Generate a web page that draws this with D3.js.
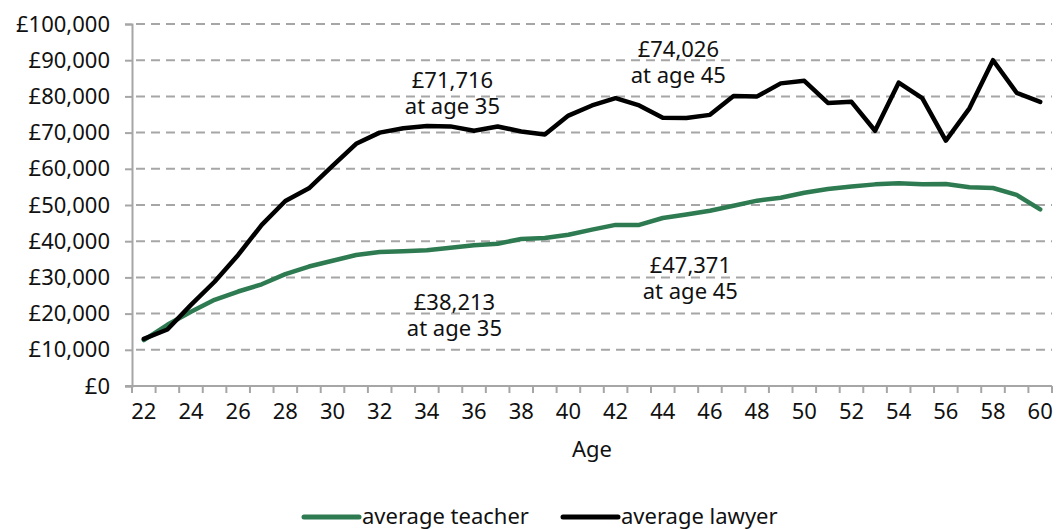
<!DOCTYPE html>
<html>
<head>
<meta charset="utf-8">
<script src="https://cdn.jsdelivr.net/npm/d3@7"></script>
<style>
  body { margin: 0; background: #fff; }
  text { font-family: "Noto Sans", sans-serif; fill: #111; }
</style>
</head>
<body>
<svg id="chart"></svg>
<script>
// Ages on the x axis
const ages = d3.range(22, 61);

// Average salary by age
const teacherValues = [
  12700, 16900, 20500, 23800, 26100, 28100, 30900, 33000, 34600, 36200,
  37000, 37200, 37500, 38213, 38900, 39300, 40600, 40900, 41800, 43200,
  44500, 44500, 46400, 47371, 48400, 49800, 51200, 52000, 53400, 54400,
  55100, 55700, 56000, 55700, 55800, 54900, 54700, 52800, 48800
];
const lawyerValues = [
  13000, 15600, 22400, 28800, 36200, 44500, 51100, 54600, 60800, 66900,
  70000, 71200, 71800, 71716, 70500, 71700, 70300, 69500, 74700, 77500,
  79500, 77500, 74100, 74026, 74900, 80100, 80000, 83600, 84300, 78200,
  78500, 70500, 83800, 79500, 67800, 76700, 90000, 81000, 78500
];

const yTicks = [0, 10000, 20000, 30000, 40000, 50000, 60000, 70000, 80000, 90000, 100000];
const xTickLabels = ages.filter(a => a % 2 === 0);

const seriesNames = ["average teacher", "average lawyer"];
const seriesColors = ["#2e7b52", "#000000"];

// Call-out labels next to the lines
const callouts = [
  { age: 35, value: 71716, line1: "£71,716", line2: "at age 35", dy: -12, dx: 2 },
  { age: 45, value: 74026, line1: "£74,026", line2: "at age 45", dy: -35, dx: -8 },
  { age: 35, value: 38213, line1: "£38,213", line2: "at age 35", dy: 88, dx: 4 },
  { age: 45, value: 47371, line1: "£47,371", line2: "at age 45", dy: 84, dx: 4 }
];

const width = 1057;
const height = 529;
const margin = { top: 24, right: 5, bottom: 143, left: 132 };
const fontSize = 22;

const svg = d3.select("#chart")
  .attr("width", width)
  .attr("height", height);

const x = d3.scaleBand()
  .domain(ages)
  .range([margin.left, 1052]);

const y = d3.scaleLinear()
  .domain([0, 100000])
  .range([386, margin.top]);

const cx = a => x(a) + x.bandwidth() / 2;
const fmt = v => "£" + d3.format(",")(v);

// Gridlines (dashed)
svg.append("g")
  .selectAll("line")
  .data(yTicks.slice(1))
  .enter().append("line")
  .attr("x1", margin.left)
  .attr("x2", 1052)
  .attr("y1", d => y(d))
  .attr("y2", d => y(d))
  .attr("stroke", "#a6a6a6")
  .attr("stroke-width", 2)
  .attr("stroke-dasharray", "9,6")
  .attr("stroke-dashoffset", -4);

// Y axis
const yAxis = d3.axisLeft(y)
  .tickValues(yTicks)
  .tickFormat(fmt)
  .tickSize(7)
  .tickPadding(15);

const gy = svg.append("g")
  .attr("transform", `translate(${margin.left},0)`)
  .call(yAxis);
gy.select(".domain").attr("stroke", "#a6a6a6").attr("stroke-width", 2);
gy.selectAll(".tick line").attr("stroke", "#a6a6a6").attr("stroke-width", 2);
gy.selectAll(".tick text").attr("font-size", fontSize).attr("fill", "#111").attr("font-family", "Noto Sans");

// X axis, ticks between categories
const gx = svg.append("g")
  .attr("transform", `translate(0,${y(0)})`);
gx.append("line")
  .attr("x1", margin.left - 7)
  .attr("x2", 1052)
  .attr("stroke", "#a6a6a6")
  .attr("stroke-width", 2);
gx.selectAll(".xt")
  .data(ages.concat([61]))
  .enter().append("line")
  .attr("class", "xt")
  .attr("x1", d => d === 61 ? 1052 : x(d))
  .attr("x2", d => d === 61 ? 1052 : x(d))
  .attr("y1", 0)
  .attr("y2", 7)
  .attr("stroke", "#a6a6a6")
  .attr("stroke-width", 2);
gx.selectAll(".xl")
  .data(xTickLabels)
  .enter().append("text")
  .attr("class", "xl")
  .attr("x", d => cx(d))
  .attr("y", 33)
  .attr("text-anchor", "middle")
  .attr("font-size", fontSize)
  .text(d => d);

// Axis title
svg.append("text")
  .attr("x", (margin.left + 1052) / 2)
  .attr("y", 457)
  .attr("text-anchor", "middle")
  .attr("font-size", fontSize)
  .text("Age");

// Lines
const line = d3.line()
  .x((d, i) => cx(ages[i]))
  .y(d => y(d));

[teacherValues, lawyerValues].forEach((vals, i) => {
  svg.append("path")
    .datum(vals)
    .attr("fill", "none")
    .attr("stroke", seriesColors[i])
    .attr("stroke-width", 4.5)
    .attr("stroke-linejoin", "round")
    .attr("stroke-linecap", "round")
    .attr("d", line);
});

// Call-out labels
const co = svg.append("g").selectAll("text")
  .data(callouts)
  .enter().append("text")
  .attr("text-anchor", "middle")
  .attr("font-size", fontSize);
co.append("tspan")
  .attr("x", d => cx(d.age) + d.dx)
  .attr("y", d => y(d.value) + d.dy - 26)
  .text(d => d.line1);
co.append("tspan")
  .attr("x", d => cx(d.age) + d.dx)
  .attr("y", d => y(d.value) + d.dy)
  .text(d => d.line2);

// Legend
const legendX = [304, 563];
const legend = svg.append("g").selectAll("g")
  .data(seriesNames)
  .enter().append("g")
  .attr("transform", (d, i) => `translate(${legendX[i]},517)`);
legend.append("line")
  .attr("x1", 0)
  .attr("x2", 55)
  .attr("stroke", (d, i) => seriesColors[i])
  .attr("stroke-width", 5)
  .attr("stroke-linecap", "round");
legend.append("text")
  .attr("x", 58)
  .attr("y", 7)
  .attr("font-size", fontSize)
  .text(d => d);
</script>
</body>
</html>
